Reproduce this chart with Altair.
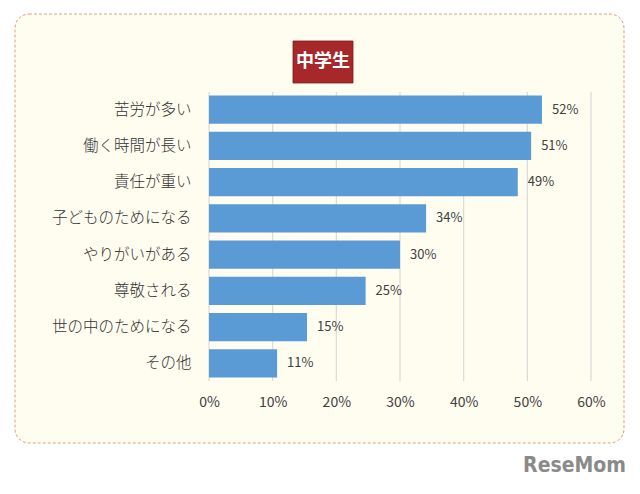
import altair as alt
import pandas as pd

categories = ["苦労が多い", "働く時間が長い", "責任が重い", "子どものためになる",
              "やりがいがある", "尊敬される", "世の中のためになる", "その他"]
values = [52.3, 50.6, 48.5, 34.1, 30.0, 24.6, 15.4, 10.7]
labels = ["52%", "51%", "49%", "34%", "30%", "25%", "15%", "11%"]
x_ticks = [0, 10, 20, 30, 40, 50, 60]
title_text = "中学生"

df = pd.DataFrame({"cat": categories, "val": values, "lab": labels})
grid_df = pd.DataFrame({"val": x_ticks})

FONT = "Noto Sans CJK JP"
W, H = 382, 289
L, T = 209, 92

y_enc = alt.Y("cat:N", sort=categories, title=None,
              scale=alt.Scale(paddingInner=0.22, paddingOuter=0.1),
              axis=alt.Axis(domain=False, ticks=False, labelPadding=18, zindex=1,
                            labelFontSize=15.5, labelFontWeight=300,
                            labelColor="#333333", labelFont=FONT))
x_scale = alt.Scale(domain=[0, 60])
x_axis = alt.Axis(values=x_ticks, labelExpr="datum.value + '%'", zindex=1,
                  domain=False, ticks=False, grid=False, labelPadding=14,
                  labelFlush=False, labelOverlap=False,
                  labelFontSize=14, labelColor="#404040", labelFont=FONT)
x_enc = alt.X("val:Q", title=None, scale=x_scale, axis=x_axis)

one = pd.DataFrame({"a": [0]})

bg = alt.Chart(one).mark_rect(fill="#fffdf0", stroke="#e0a080", strokeDash=[3, 2],
                              strokeWidth=1, cornerRadius=14).encode(
    x=alt.value(15 - L), x2=alt.value(624 - L),
    y=alt.value(14 - T), y2=alt.value(443 - T))

grid = alt.Chart(grid_df).mark_rule(color="#d9d9d9", strokeWidth=1.2).encode(
    x=x_enc, y=alt.value(0), y2=alt.value(H))

bars = alt.Chart(df).mark_bar(color="#5b9bd5").encode(x=x_enc, y=y_enc)

text = alt.Chart(df).mark_text(align="left", dx=10, fontSize=13, color="#404040",
                               font=FONT).encode(
    x=x_enc, y=y_enc, text="lab:N")

tbox = alt.Chart(one).mark_rect(fill="#a8282a", stroke="#7a1a1a", strokeWidth=0.8).encode(
    x=alt.value(293 - L), x2=alt.value(353 - L),
    y=alt.value(41 - T), y2=alt.value(83 - T))

ttext = alt.Chart(pd.DataFrame({"t": [title_text]})).mark_text(
    fontSize=18, fontWeight="bold", color="white", font=FONT, baseline="middle").encode(
    x=alt.value(323 - L), y=alt.value(62 - T), text="t:N")

wm = alt.Chart(pd.DataFrame({"t": ["ReseMom"]})).mark_text(
    fontSize=21, fontWeight="bold", color="#8a8a8a", font="DejaVu Sans Condensed",
    align="right", baseline="middle").encode(
    x=alt.value(626 - L), y=alt.value(466 - T), text="t:N")

chart = alt.layer(bg, grid, bars, text, tbox, ttext, wm).properties(
    width=W, height=H,
    autosize=alt.AutoSizeParams(type="none"),
    padding={"left": L, "top": T, "right": 640 - L - W, "bottom": 494 - T - H},
    background="white",
).configure_view(stroke=None)

chart.save("out.html", embed_options={"renderer": "svg", "actions": False})
